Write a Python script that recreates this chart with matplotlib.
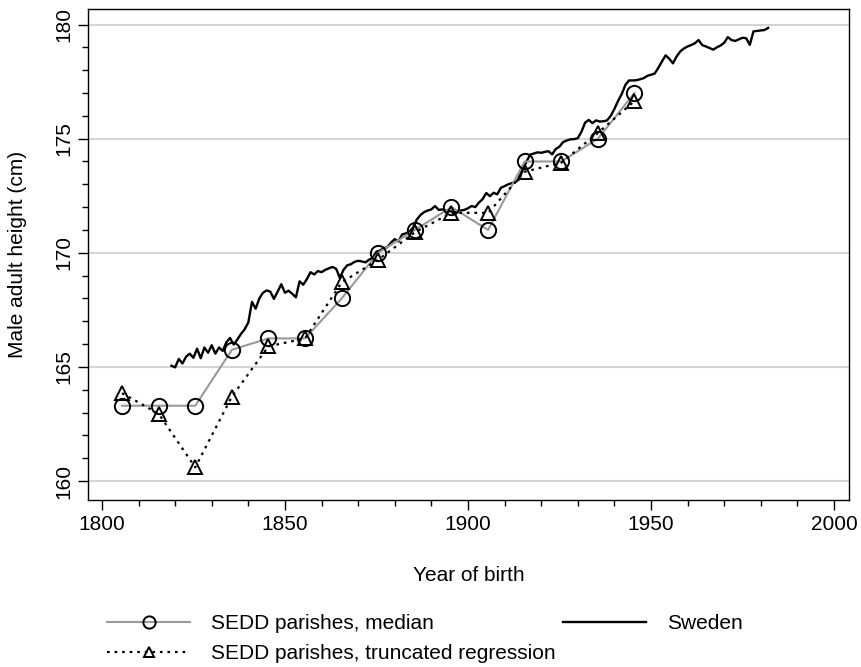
import numpy as np
import matplotlib
matplotlib.use("Agg")
import matplotlib.pyplot as plt
from matplotlib.ticker import MultipleLocator

plt.rcParams['font.family'] = ['Liberation Sans', 'DejaVu Sans']

# SEDD parishes (decade cohorts)
sedd_years = [1805.5, 1815.5, 1825.5, 1835.5, 1845.5, 1855.5, 1865.5, 1875.5,
              1885.5, 1895.5, 1905.5, 1915.5, 1925.5, 1935.5, 1945.5]
sedd_median = [163.3, 163.3, 163.3, 165.75, 166.25, 166.25, 168.0, 170.0,
               171.0, 172.0, 171.0, 174.0, 174.0, 175.0, 177.0]
sedd_trunc = [163.85, 162.95, 160.6, 163.7, 165.9, 166.25, 168.7, 169.7,
              170.9, 171.75, 171.75, 173.55, 173.95, 175.25, 176.65]

# Sweden, annual cohorts 1819-1982
sweden_years = np.arange(1819, 1983)
sweden_height = [
    165.05, 164.98, 165.35, 165.15, 165.45, 165.58, 165.40, 165.80, 165.38, 165.85,
    165.62, 165.95, 165.58, 165.85, 165.70, 166.08, 166.27, 165.98, 166.20, 166.45,
    166.65, 166.95, 167.85, 167.55, 168.00, 168.25, 168.35, 168.30, 167.98, 168.30,
    168.62, 168.25, 168.34, 168.20, 168.05, 168.75, 168.60, 168.85, 169.15, 169.05,
    169.20, 169.15, 169.25, 169.32, 169.38, 169.30, 168.90, 169.25, 169.45, 169.50,
    169.60, 169.65, 169.62, 169.58, 169.70, 169.78, 170.05, 170.10, 170.20, 170.25,
    170.45, 170.60, 170.50, 170.80, 170.85, 170.92, 171.10, 171.45, 171.65, 171.78,
    171.85, 171.90, 172.05, 171.88, 171.90, 171.85, 171.82, 171.80, 171.76, 171.85,
    171.88, 171.95, 172.05, 172.00, 172.20, 172.35, 172.62, 172.48, 172.63, 172.56,
    172.85, 172.92, 173.00, 173.05, 173.10, 173.22, 173.65, 174.00, 174.30, 174.35,
    174.40, 174.38, 174.42, 174.45, 174.31, 174.55, 174.65, 174.85, 174.92, 174.97,
    174.98, 175.02, 175.30, 175.70, 175.82, 175.68, 175.80, 175.75, 175.76, 175.80,
    176.00, 176.30, 176.65, 176.95, 177.35, 177.55, 177.55, 177.56, 177.60, 177.65,
    177.75, 177.80, 177.85, 178.10, 178.38, 178.65, 178.50, 178.30, 178.60, 178.82,
    178.95, 179.04, 179.10, 179.18, 179.32, 179.10, 179.04, 178.97, 178.90, 179.00,
    179.08, 179.20, 179.45, 179.32, 179.28, 179.35, 179.42, 179.40, 179.11, 179.70,
    179.72, 179.74, 179.76, 179.85,
]

labels = ["SEDD parishes, median", "SEDD parishes, truncated regression", "Sweden"]

fs = 15
fig = plt.figure(figsize=(8.62, 6.67), dpi=100)
ax = fig.add_axes([88/862, 1 - 500/667, (849-88)/862, (500-9)/667])

ax.set_xlim(1796.2, 2004.1)
ax.set_ylim(159.17, 180.68)

ax.yaxis.set_major_locator(MultipleLocator(5))
ax.yaxis.set_minor_locator(MultipleLocator(1))
ax.xaxis.set_major_locator(MultipleLocator(50))
ax.xaxis.set_minor_locator(MultipleLocator(10))
ax.grid(axis='y', which='major', color='#d4d4d4', lw=1.5, zorder=0)
ax.set_axisbelow(True)

l_med, = ax.plot(sedd_years, sedd_median, color='#999999', lw=1.5, marker='o',
                 ms=11, mfc='none', mec='black', mew=1.4, zorder=3)
l_tr, = ax.plot(sedd_years, sedd_trunc, color='black', lw=1.6, ls=(0, (1.2, 2.2)),
                marker='^', ms=9.5, mfc='none', mec='black', mew=1.4, zorder=4)
l_sw, = ax.plot(sweden_years, sweden_height, color='black', lw=1.7, zorder=2)

ax.tick_params(axis='both', which='major', length=7, width=1, labelsize=fs, color='black')
ax.tick_params(axis='both', which='minor', length=4, width=1, color='black')
for lab in ax.get_yticklabels():
    lab.set_rotation(90)
    lab.set_va('center')
for sp in ax.spines.values():
    sp.set_linewidth(1.0)

ax.set_xlabel("Year of birth", fontsize=fs, labelpad=23)
ax.set_ylabel("Male adult height (cm)", fontsize=fs, labelpad=20)

fig.legend([l_med, l_tr, l_sw], labels, ncol=2, loc='upper left',
           bbox_to_anchor=(107/862, 1 - 614/667), frameon=False, fontsize=fs,
           handlelength=4.0, handletextpad=1.0, columnspacing=0.35,
           labelspacing=0.55, borderpad=0, borderaxespad=0, numpoints=1,
           markerscale=0.8)

fig.savefig("out.png", dpi=100)
